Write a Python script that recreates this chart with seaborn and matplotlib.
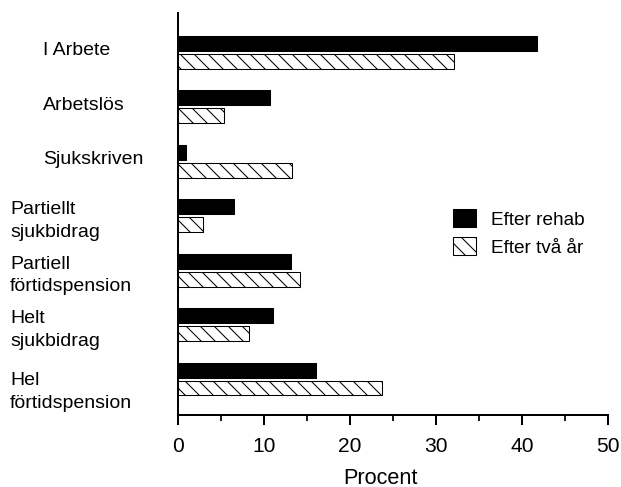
import matplotlib
matplotlib.use("Agg")
import matplotlib.pyplot as plt
import matplotlib.transforms as mtransforms
import numpy as np
import pandas as pd
import seaborn as sns

# ── Data ──────────────────────────────────────────────────────────────────────
categories = [
    "I Arbete",
    "Arbetslös",
    "Sjukskriven",
    "Partiellt\nsjukbidrag",
    "Partiell\nförtidspension",
    "Helt\nsjukbidrag",
    "Hel\nförtidspension",
]
series = ["Efter rehab", "Efter två år"]
efter_rehab = [41.7, 10.7, 0.9, 6.5, 13.1, 11.0, 16.1]
efter_tva_ar = [32.1, 5.3, 13.3, 2.9, 14.2, 8.3, 23.7]
x_ticks = [0, 10, 20, 30, 40, 50]

df = pd.DataFrame({
    "kategori": categories * 2,
    "grupp": [series[0]] * len(categories) + [series[1]] * len(categories),
    "procent": efter_rehab + efter_tva_ar,
})

# ── Style ─────────────────────────────────────────────────────────────────────
DPI = 84
sns.set_style("ticks")
plt.rcParams["font.family"] = ["Liberation Sans", "DejaVu Sans"]
plt.rcParams["hatch.linewidth"] = 0.9
plt.rcParams["text.color"] = "black"
plt.rcParams["xtick.color"] = "black"
plt.rcParams["axes.labelcolor"] = "black"
plt.rcParams["axes.edgecolor"] = "black"

fig = plt.figure(figsize=(621 / DPI, 487 / DPI), dpi=DPI)
ax = fig.add_axes([178 / 621, 1 - 415 / 487, 430 / 621, (415 - 13) / 487])

sns.barplot(
    data=df, x="procent", y="kategori", hue="grupp", orient="h",
    palette=["black", "white"], width=0.66, gap=0.17,
    edgecolor="black", linewidth=0.9, legend=False, ax=ax,
)
for bar in ax.containers[1]:
    bar.set_hatch("\\\\")

# ── Axes ──────────────────────────────────────────────────────────────────────
ax.set_xlim(0, 50)
ax.set_ylim(len(categories) - 1 + 0.66, -0.72)
ax.set_xticks(x_ticks)
ax.set_xticks(np.arange(5, 50, 10), minor=True)
ax.tick_params(axis="x", which="major", length=8.5, width=1.7, pad=10, labelsize=18)
ax.tick_params(axis="x", which="minor", length=5, width=1.5)
ax.tick_params(axis="y", length=0, labelleft=False)
ax.set_ylabel("")
ax.set_xlabel("Procent", fontsize=18.5)
ax.xaxis.set_label_coords((380 - 178) / 430, -(478 - 415) / 402, transform=ax.transAxes)
ax.xaxis.label.set_va("center")
for side in ["top", "right"]:
    ax.spines[side].set_visible(False)
for side in ["left", "bottom"]:
    ax.spines[side].set_linewidth(1.7)

# category labels, left aligned in the margin (small vertical nudges as in the original)
nudge = [-0.03, -0.03, -0.03, 0.10, 0.10, 0.10, 0.24]
trans = mtransforms.blended_transform_factory(fig.transFigure, ax.transData)
for i, label in enumerate(categories):
    x0 = 10 / 621 if "\n" in label else 43 / 621
    ax.text(x0, i + nudge[i], label, transform=trans, ha="left", va="center",
            fontsize=16.7, linespacing=1.42)

ax.legend(
    handles=ax.containers, labels=series,
    loc="upper left", bbox_to_anchor=(453 / 621, 1 - 209 / 487),
    bbox_transform=fig.transFigure, frameon=False, fontsize=16.3,
    handlelength=1.2, handleheight=1.1, handletextpad=0.8,
    labelspacing=0.45, borderaxespad=0, borderpad=0,
)

fig.savefig("out.png", dpi=DPI)
